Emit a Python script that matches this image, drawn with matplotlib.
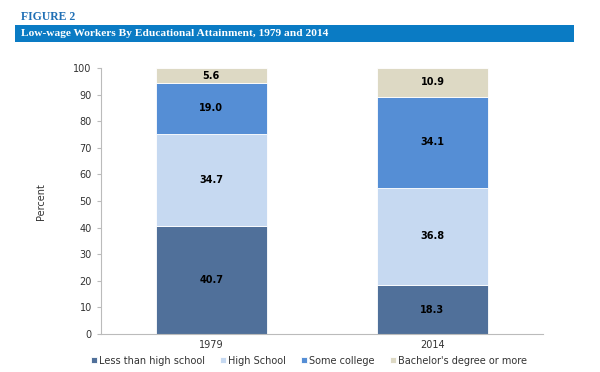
import matplotlib
matplotlib.use("Agg")
import matplotlib.pyplot as plt
import numpy as np

years = ["1979", "2014"]
groups = ["Less than high school", "High School", "Some college", "Bachelor's degree or more"]
less_hs = [40.7, 18.3]
high_school = [34.7, 36.8]
some_college = [19.0, 34.1]
bachelors = [5.6, 10.9]
colors = ["#50709a", "#c6d9f1", "#558ed5", "#ddd9c4"]

fig = plt.figure(figsize=(6, 3.72), dpi=100, facecolor="white")

# header
fig.text(0.035, 0.955, "FIGURE 2", color="#1f6fb5", fontsize=8.5, fontweight="bold",
         family="Liberation Serif", va="center")
fig.patches.append(plt.Rectangle((0.025, 0.888), 0.932, 0.044, transform=fig.transFigure,
                                 facecolor="#0a7bc4", edgecolor="none"))
fig.text(0.035, 0.910, "Low-wage Workers By Educational Attainment, 1979 and 2014",
         color="white", fontsize=8.2, fontweight="bold", family="Liberation Serif", va="center")

ax = fig.add_axes([0.168, 0.102, 0.737, 0.715])
x = np.arange(len(years))
series = [less_hs, high_school, some_college, bachelors]
bottom = np.zeros(len(years))
bars = []
for vals, c, name in zip(series, colors, groups):
    b = ax.bar(x, vals, 0.5, bottom=bottom, color=c, edgecolor="white", linewidth=0.6, label=name)
    bars.append(b)
    for xi, v, bt in zip(x, vals, bottom):
        ax.text(xi, bt + v / 2, f"{v:.1f}", ha="center", va="center", fontsize=7,
                fontweight="bold", color="black")
    bottom += np.array(vals)

ax.set_xlim(-0.5, 1.5)
ax.set_ylim(0, 100)
ax.set_yticks(range(0, 101, 10))
ax.set_xticks(x)
ax.set_xticklabels(years)
ax.tick_params(axis="both", labelsize=7, colors="#333333", length=3, color="#bbbbbb")
ax.tick_params(axis="x", length=0, pad=4)
for s in ["top", "right"]:
    ax.spines[s].set_visible(False)
ax.spines["left"].set_color("#bbbbbb")
ax.spines["bottom"].set_color("#bbbbbb")
ax.set_ylabel("Percent", fontsize=7, color="#333333", labelpad=20)

fig.legend(handles=bars, labels=groups, loc="center", bbox_to_anchor=(0.515, 0.030),
           ncol=4, frameon=False, fontsize=7, handlelength=0.6, handleheight=0.6,
           handletextpad=0.2, columnspacing=1.6, labelcolor="#333333")

fig.savefig("out.png", dpi=100, facecolor="white")
